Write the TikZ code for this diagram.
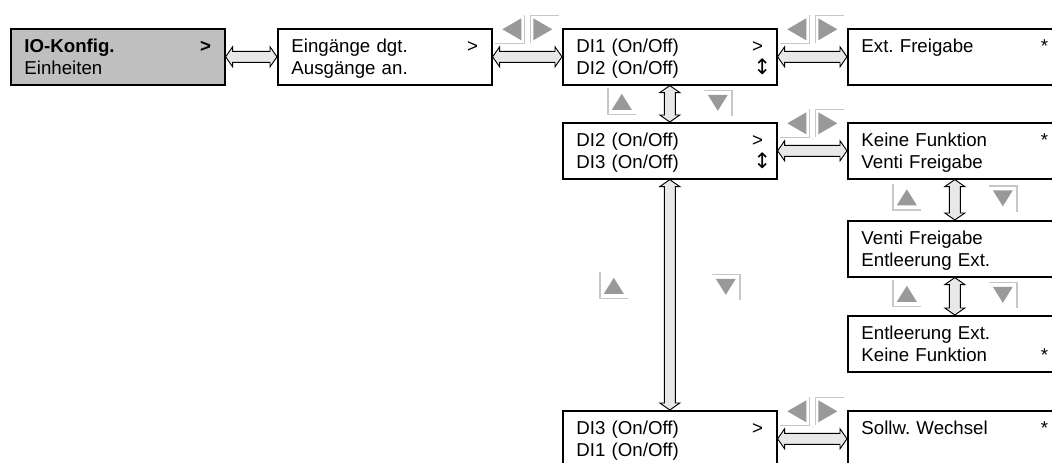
\documentclass[tikz,border=0pt]{standalone}
\usepackage{fontspec}
\setmainfont{Liberation Sans}
\newfontfamily\arrowfont{DejaVu Sans}
\usepackage{tikz}
\usetikzlibrary{calc}
\frenchspacing
\tikzstyle{menu} = [rectangle, draw=black, line width=1.2pt, anchor=north west, minimum width=160.5pt, minimum height=42pt, text width=140pt, inner xsep=9.75pt, align=left, text height=12pt, text depth=18pt, font=\fontsize{14}{16.5}\selectfont]
\tikzstyle{active} = [menu, fill=black!25]
\tikzstyle{blockarrow} = [draw=black, line width=0.7pt, fill=black!9]
\tikzstyle{keyline} = [draw=black!22, line width=1.1pt]
\tikzstyle{keytri} = [fill=black!40]
\tikzset{
  keyleft/.pic={\fill[keytri] (-10,0) -- (9,-11) -- (9,11) -- cycle; \draw[keyline] (-17,14) -- (12,14) -- (12,-14);},
  keyright/.pic={\fill[keytri] (10,0) -- (-9,-11) -- (-9,11) -- cycle; \draw[keyline] (-12,14) -- (-12,-14) -- (17,-14);},
  keyup/.pic={\fill[keytri] (0,-8.5) -- (10,7.5) -- (-10,7.5) -- cycle; \draw[keyline] (-14,-14) -- (-14,12) -- (14,12);},
  keydown/.pic={\fill[keytri] (0,8.5) -- (10,-7.5) -- (-10,-7.5) -- cycle; \draw[keyline] (-14,-12) -- (14,-12) -- (14,14);}
}
% block arrows between menu boxes
\newcommand{\hlink}[2]{\draw[blockarrow] (#1.east) -- ++(7,-10) -- ++(0,4.5) -- ($(#2.west)+(-7,-5.5)$) -- ++(0,-4.5) -- (#2.west) -- ++(-7,10) -- ++(0,-4.5) -- ($(#1.east)+(7,5.5)$) -- ++(0,4.5) -- cycle;}
\newcommand{\vlink}[2]{\draw[blockarrow] (#1.south) -- ++(-10,7) -- ++(4.5,0) -- ($(#2.north)+(-5.5,-7)$) -- ++(-4.5,0) -- (#2.north) -- ++(10,-7) -- ++(-4.5,0) -- ($(#1.south)+(5.5,7)$) -- ++(4.5,0) -- cycle;}
% key symbols
\newcommand{\lrkeys}[2]{\pic at ($(#1.east)!0.5!(#2.west)+(-15,-27.5)$) {keyleft}; \pic at ($(#1.east)!0.5!(#2.west)+(15,-27.5)$) {keyright};}
\newcommand{\udkeys}[4]{\pic at ($(#1.south)!0.5!(#2.north)+(-#3,#4)$) {keyup}; \pic at ($(#1.south)!0.5!(#2.north)+(#3,#4)$) {keydown};}
\newcommand{\updown}{{\arrowfont\fontsize{16}{16}\selectfont ↕}\kern-6pt}

\begin{document}
\begin{tikzpicture}[x=0.75pt, y=-0.75pt]
\useasboundingbox (0,0) rectangle (1052,463);
\clip (0,0) rectangle (1052,463);

% Menu boxes
\node (io) [active] at (10,28) {\textbf{IO-Konfig.}\hfill\textbf{>}\\Einheiten};
\node (ein) [menu] at (277,28) {Eingänge dgt.\hfill >\\Ausgänge an.};
\node (di1) [menu] at (562,28) {DI1 (On/Off)\hfill >\\DI2 (On/Off)\hfill\updown};
\node (ext) [menu] at (847,28) {Ext. Freigabe\hfill *};
\node (di2) [menu] at (562,122) {DI2 (On/Off)\hfill >\\DI3 (On/Off)\hfill\updown};
\node (kein) [menu] at (847,122) {Keine Funktion\hfill *\\Venti Freigabe};
\node (venti) [menu] at (847,220) {Venti Freigabe\\Entleerung Ext.};
\node (entl) [menu] at (847,315) {Entleerung Ext.\\Keine Funktion\hfill *};
\node (di3) [menu] at (562,410) {DI3 (On/Off)\hfill >\\DI1 (On/Off)};
\node (sollw) [menu] at (847,410) {Sollw. Wechsel\hfill *};

% Connections
\hlink{io}{ein}
\hlink{ein}{di1}
\hlink{di1}{ext}
\hlink{di2}{kein}
\hlink{di3}{sollw}
\vlink{di1}{di2}
\vlink{di2}{di3}
\vlink{kein}{venti}
\vlink{venti}{entl}

% Keys
\lrkeys{ein}{di1}
\lrkeys{di1}{ext}
\lrkeys{di2}{kein}
\lrkeys{di3}{sollw}
\udkeys{di1}{di2}{48}{-1.5}
\udkeys{di2}{di3}{56}{-8.5}
\udkeys{kein}{venti}{48}{-2}
\udkeys{venti}{entl}{48}{-2}

\end{tikzpicture}
\end{document}
